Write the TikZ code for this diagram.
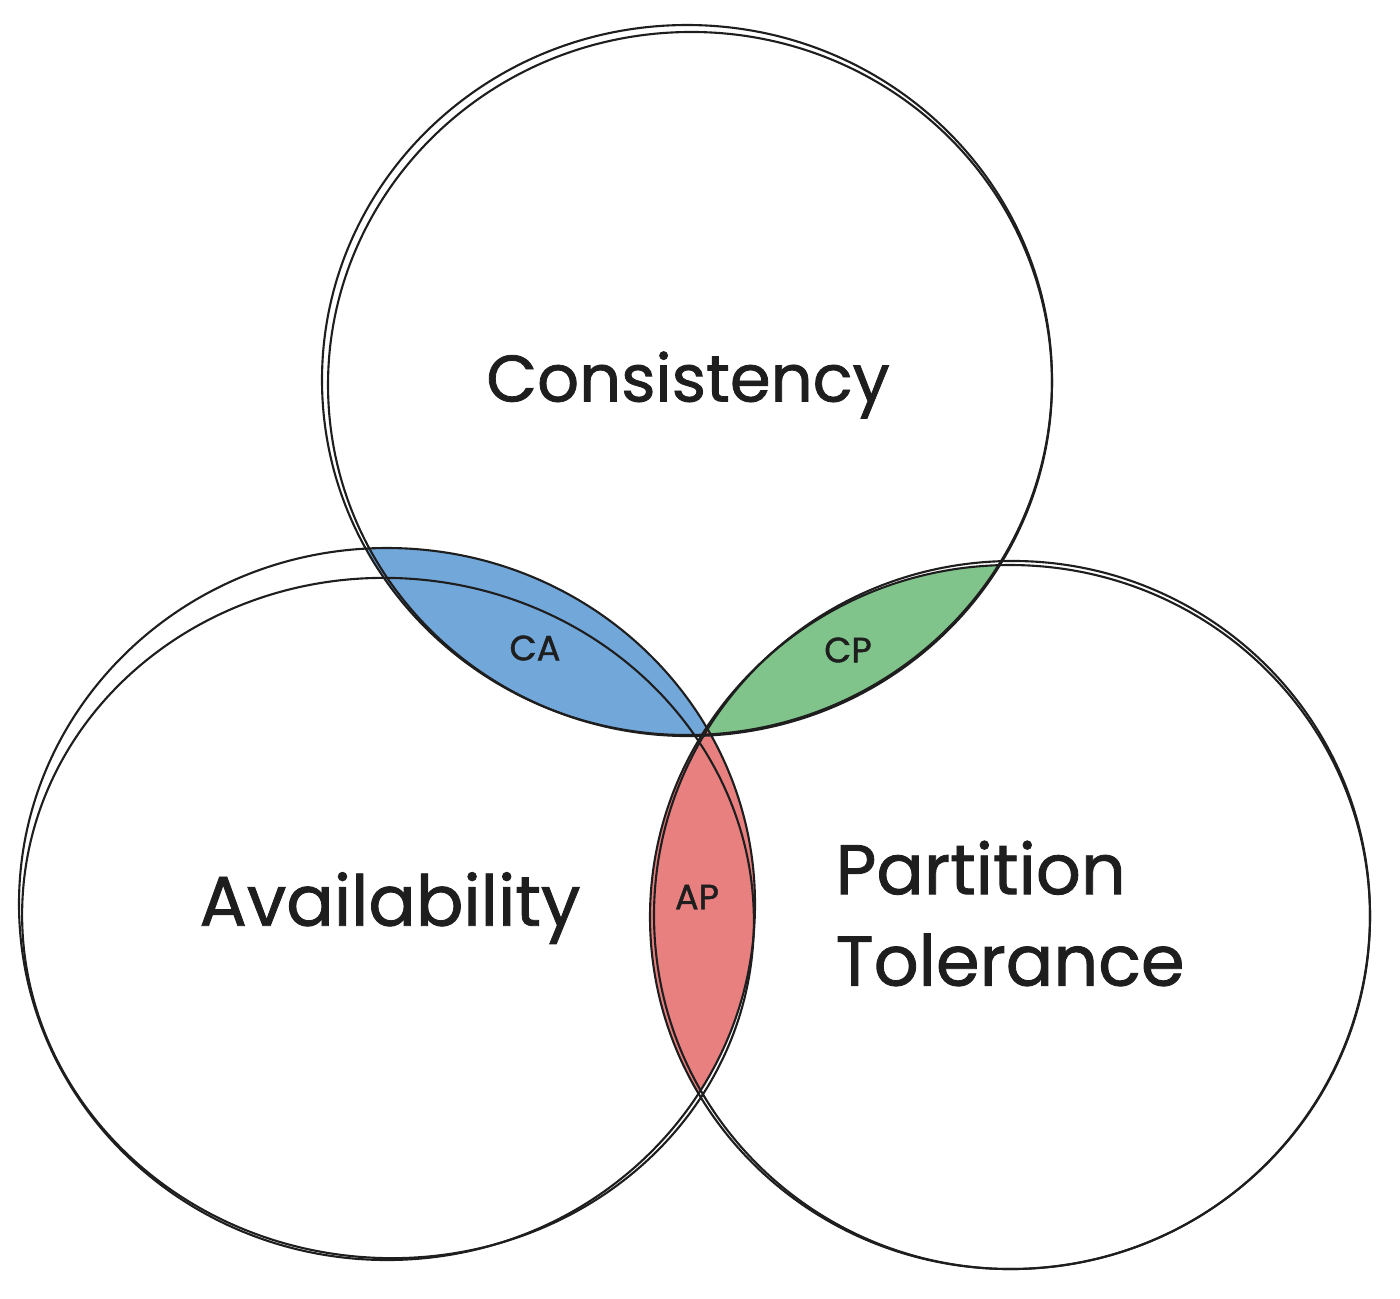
\documentclass[tikz,border=0pt]{standalone}
\usepackage{fontspec}
\setmainfont{Poppins}
\newfontfamily\sketchfont{Poppins}[FakeBold=1.2]
\definecolor{ink}{HTML}{1E1E1E}
\definecolor{cablue}{HTML}{72A7D9}
\definecolor{cpgreen}{HTML}{80C48C}
\definecolor{apred}{HTML}{E98080}
\tikzset{
  sketch/.style={draw=ink, line width=0.6pt},
  biglabel/.style={text=ink, font=\sketchfont\fontsize{20}{26}\selectfont, inner sep=0pt},
  smalllabel/.style={text=ink, font=\sketchfont\fontsize{10}{12}\selectfont, inner sep=0pt}
}
\begin{document}
\begin{tikzpicture}
\useasboundingbox (0,0) rectangle (14,-12.98);
% lens fills
\begin{scope}
  \clip (6.87,-3.80) ellipse [x radius=3.65, y radius=3.55];
  \fill[cablue] (3.87,-9.04) ellipse [x radius=3.68, y radius=3.56];
\end{scope}
\begin{scope}
  \clip (6.87,-3.80) ellipse [x radius=3.65, y radius=3.55];
  \fill[cpgreen] (10.10,-9.17) ellipse [x radius=3.60, y radius=3.52];
\end{scope}
\begin{scope}
  \clip (3.87,-9.04) ellipse [x radius=3.68, y radius=3.56];
  \fill[apred] (10.10,-9.17) ellipse [x radius=3.60, y radius=3.52];
\end{scope}
% top circle (Consistency)
\draw[sketch] (6.87,-3.80) ellipse [x radius=3.65, y radius=3.55];
\draw[sketch, rotate around={3:(6.90,-3.84)}] (6.90,-3.84) ellipse [x radius=3.62, y radius=3.52];
% left circle (Availability)
\draw[sketch] (3.87,-9.04) ellipse [x radius=3.68, y radius=3.56];
\draw[sketch, rotate around={-4:(3.88,-9.18)}] (3.88,-9.18) ellipse [x radius=3.66, y radius=3.40];
% right circle (Partition Tolerance)
\draw[sketch] (10.10,-9.17) ellipse [x radius=3.60, y radius=3.52];
\draw[sketch, rotate around={4:(10.12,-9.15)}] (10.12,-9.15) ellipse [x radius=3.58, y radius=3.54];
% labels
\node[biglabel, font=\sketchfont\fontsize{18.7}{24}\selectfont] (cons) at (6.88,-3.85) {Consistency};
\node[biglabel] (avail) at (3.90,-9.08) {Availability};
\node[biglabel, anchor=north west, align=left] (part) at (8.35,-8.40) {Partition\\Tolerance};
\node[smalllabel] (ca) at (5.35,-6.48) {CA};
\node[smalllabel] (cp) at (8.48,-6.50) {CP};
\node[smalllabel] (ap) at (6.97,-8.97) {AP};
\end{tikzpicture}
\end{document}
